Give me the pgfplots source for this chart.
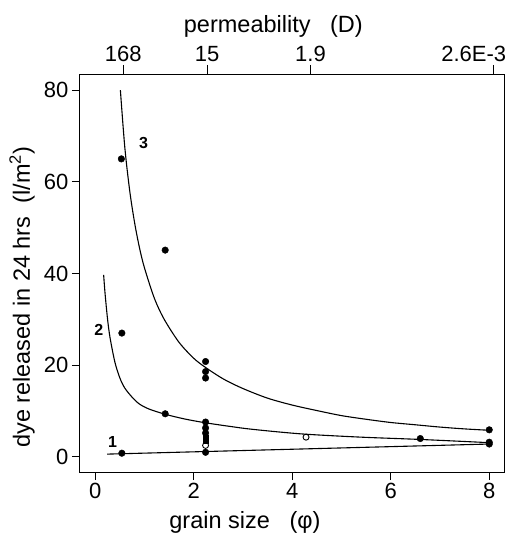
\documentclass[border=0pt]{standalone}
\usepackage{pgfplots}
\pgfplotsset{compat=1.18}
\usepackage{fontspec}
\setmainfont{Liberation Sans}
\begin{document}
\begin{tikzpicture}
\pgfplotsset{
  every axis/.append style={
    scale only axis, width=425pt, height=397pt,
    xmin=-0.31, xmax=8.32, ymin=-3.3, ymax=83.3,
    tick align=outside, major tick length=8pt,
    /pgf/number format/assume math mode=true,
    ticklabel style={font=\fontsize{22}{22}\selectfont},
    label style={font=\fontsize{23.5}{26}\selectfont},
    axis line style={line width=1pt}, tick style={line width=1pt, black},
  }
}
\begin{axis}[
  xtick={0,2,4,6,8}, ytick={0,20,40,60,80},
  xtick pos=left, ytick pos=left,
  xlabel={grain size\ \ \ (φ)},
  xlabel style={at={(axis description cs:0.388,0)}, anchor=base, yshift=-56pt, inner sep=0pt},
  ylabel={dye released in 24 hrs\ \ (l/m\textsuperscript{2})},
  ylabel style={at={(axis description cs:-0.1365,0.44)}, anchor=center, inner sep=0pt},
  clip=false,
]
% curve 3
\addplot[no marks, smooth, line width=1.1pt] coordinates {
 (0.51,80) (0.6,67.5) (0.7,58) (0.8,51) (0.9,45.5) (1.0,41.2) (1.2,34.6) (1.4,30)
 (1.7,25) (2.0,21.5) (2.24,19.5) (2.6,17) (3.0,14.9) (3.5,12.8) (4.0,11.3) (4.5,10.1)
 (5.0,9.0) (5.5,8.2) (6.0,7.5) (6.5,7.0) (7.0,6.5) (7.5,6.1) (8.0,5.8)};
% curve 2
\addplot[no marks, smooth, line width=1.1pt] coordinates {
 (0.17,39.7) (0.2,35.5) (0.25,30) (0.3,26) (0.4,20.6) (0.5,17.2) (0.6,15.0) (0.75,13.0)
 (0.9,11.5) (1.1,10.4) (1.42,9.3) (1.8,8.3) (2.2,7.5) (2.7,6.7) (3.2,6.0) (4.2,5.0)
 (5.4,4.3) (6.6,3.8) (8,3.1)};
% curve 1
\addplot[no marks, line width=1.1pt] coordinates {(0.24,0.6) (8,2.8)};
% filled points
\addplot[only marks, mark=*, mark size=3.3pt, black] coordinates {
 (0.53,65) (1.42,45.1) (2.24,20.8) (2.24,18.6) (2.24,17.2)
 (0.54,27) (1.42,9.4) (2.24,7.6) (2.24,6.3) (2.24,5.2) (2.24,1.0)
 (6.6,4.0) (8,5.9) (8,3.2) (8,2.8) (0.54,0.8)};
\addplot[only marks, mark=square*, mark size=2.2pt, black] coordinates {(2.24,4.2) (2.24,3.5)};
% open points
\addplot[only marks, mark=o, mark size=3pt, black, line width=0.9pt, mark options={fill=white}] coordinates {(2.24,2.5) (4.28,4.3)};
\node[font=\bfseries\fontsize{16}{16}\selectfont] at (axis cs:0.98,68.4) {3};
\node[font=\bfseries\fontsize{16}{16}\selectfont] at (axis cs:0.07,27.8) {2};
\node[font=\bfseries\fontsize{16}{16}\selectfont] at (axis cs:0.35,3.3) {1};
\end{axis}
\begin{axis}[
  axis x line*=top, axis y line=none,
  xtick={0.57,2.27,4.37,8.08},
  xticklabels={168,15,1.9,\hbox to 0pt{\hss 2.6E-3\hskip-13pt}},
  major tick length=10pt,
  xlabel={permeability\ \ \ (D)},
  xlabel style={at={(axis description cs:0.455,1)}, anchor=base, yshift=42pt, inner sep=0pt},
]
\end{axis}
\path (current axis.south west) ++(-80pt,-61pt) coordinate (BBA);
\path (current axis.north east) ++(2pt,75pt) coordinate (BBB);
\pgfresetboundingbox
\useasboundingbox (BBA) rectangle (BBB);
\end{tikzpicture}
\end{document}
